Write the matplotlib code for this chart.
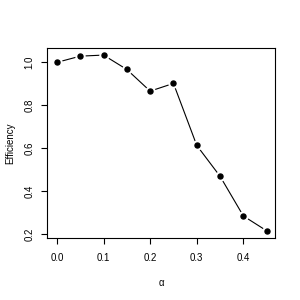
import matplotlib
matplotlib.use("Agg")
import matplotlib.pyplot as plt

alpha = [0.0, 0.05, 0.10, 0.15, 0.20, 0.25, 0.30, 0.35, 0.40, 0.45]
efficiency = [1.0, 1.029, 1.034, 0.967, 0.866, 0.902, 0.613, 0.469, 0.284, 0.215]

plt.rcParams['font.family'] = ['Liberation Sans', 'DejaVu Sans']
plt.rcParams['font.size'] = 7

fig = plt.figure(figsize=(3, 3), dpi=100)
ax = fig.add_axes([0.157, 0.207, 0.76, 0.633])

# R type="b": line with gaps around points
ax.plot(alpha, efficiency, color='black', lw=0.8, zorder=1)
ax.plot(alpha, efficiency, 'o', color='white', ms=6.5, zorder=2)
ax.plot(alpha, efficiency, 'o', color='black', ms=3.6, zorder=3)

ax.set_xlim(-0.021, 0.468)
ax.set_ylim(0.182, 1.067)
ax.set_xticks([0.0, 0.1, 0.2, 0.3, 0.4])
ax.set_yticks([0.2, 0.4, 0.6, 0.8, 1.0])
ax.set_xticklabels(['0.0', '0.1', '0.2', '0.3', '0.4'])
ax.set_yticklabels(['0.2', '0.4', '0.6', '0.8', '1.0'], rotation=90, va='center')
ax.tick_params(direction='out', length=4, width=0.8, pad=5)
ax.tick_params(axis='x', pad=7)
for s in ax.spines.values():
    s.set_linewidth(0.8)

ax.set_xlabel('α', labelpad=11)
ax.set_ylabel('Efficiency', labelpad=7)

fig.savefig('out.png', dpi=100)
